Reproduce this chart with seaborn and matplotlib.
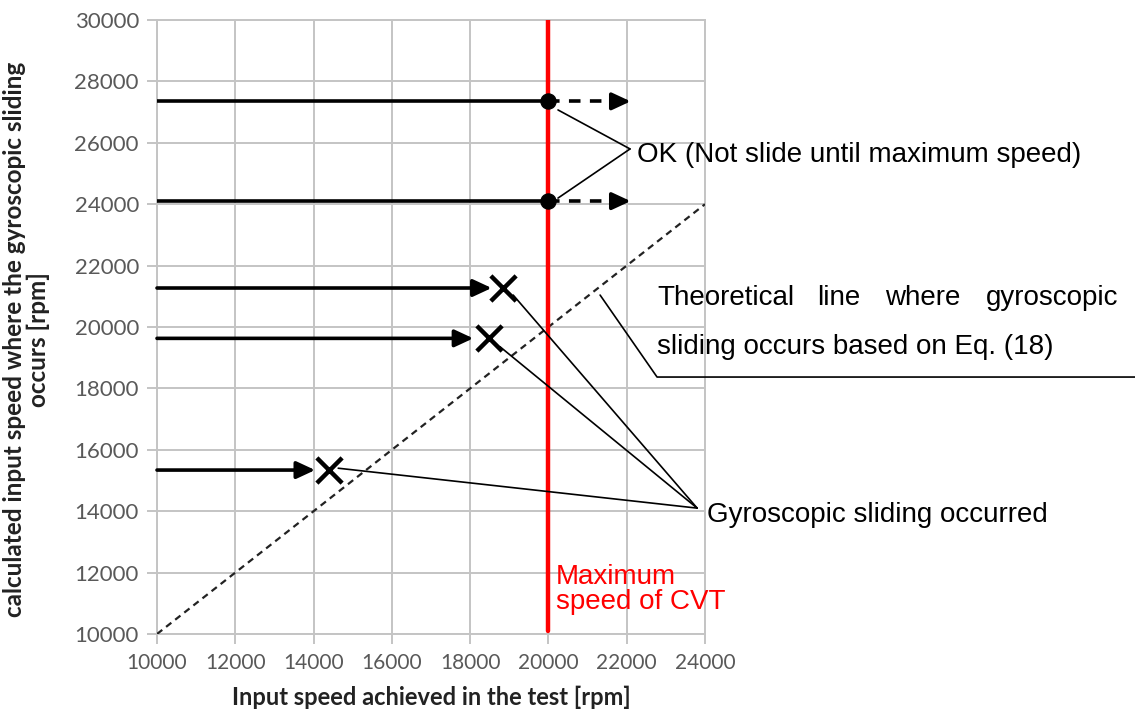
import matplotlib
matplotlib.use("Agg")
import matplotlib.pyplot as plt
import seaborn as sns
import pandas as pd

# ---------------- data ----------------
max_speed = 20000
ok_y = [27350, 24100]                 # calculated sliding speed (no sliding up to max)
ok_x = [20000, 20000]
ok_arrow_end = 22100
slide_x = [18830, 18490, 14400]       # achieved speed where sliding occurred
slide_y = [21270, 19630, 15340]
slide_arrow_tip = [18550, 18080, 14040]
theory_x = [10000, 24000]
theory_y = [10000, 24000]
x_ticks = list(range(10000, 24001, 2000))
y_ticks = list(range(10000, 30001, 2000))

sns.set_theme(style="white")
plt.rcParams["font.family"] = ["Liberation Sans", "DejaVu Sans"]

W, H = 1135, 713
fig = plt.figure(figsize=(W / 100, H / 100), dpi=100)
ax = fig.add_axes([157 / W, 1 - 634 / H, (705 - 157) / W, (634 - 20) / H])

ax.set_xlim(10000, 24000)
ax.set_ylim(10000, 30000)
ax.set_xticks(x_ticks)
ax.set_yticks(y_ticks)
grid_c = "#c4c4c4"
ax.grid(True, color=grid_c, lw=1.4)
for s in ax.spines.values():
    s.set_color(grid_c)
    s.set_linewidth(1.4)
ax.tick_params(axis="both", which="both", length=7, width=1.4, color=grid_c,
               colors="#595959", direction="out", left=True, bottom=True)
for lab in ax.get_xticklabels():
    lab.set_family("Lato"); lab.set_fontsize(15)
for lab in ax.get_yticklabels():
    lab.set_family("Lato"); lab.set_fontsize(16)
ax.tick_params(axis="x", pad=7)
ax.tick_params(axis="y", pad=6)

# theoretical line
df_th = pd.DataFrame({"x": theory_x, "y": theory_y})
sns.lineplot(data=df_th, x="x", y="y", ax=ax, color="#222222", lw=1.6,
             dashes=False, zorder=3)
ax.lines[-1].set_dashes((3, 2.2))

# red max speed line
df_red = pd.DataFrame({"x": [max_speed, max_speed], "y": [10100, 30000]})
sns.lineplot(data=df_red, x="x", y="y", ax=ax, color="#ff0000", lw=3.2, zorder=4,
             estimator=None, sort=False)

# arrows
ap = dict(arrowstyle="-|>,head_length=0.56,head_width=0.26", lw=2.6, color="black",
          shrinkA=0, shrinkB=0, mutation_scale=20)
for y in ok_y:
    ax.plot([10000, max_speed], [y, y], color="black", lw=2.6, zorder=5,
            solid_capstyle="butt")
    ax.plot([max_speed, ok_arrow_end - 420], [y, y], color="black", lw=2.6,
            dashes=(3.2, 2.6), zorder=5)
    ax.annotate("", xy=(ok_arrow_end, y), xytext=(ok_arrow_end - 400, y),
                arrowprops=ap, zorder=5)
for tip, y in zip(slide_arrow_tip, slide_y):
    ax.annotate("", xy=(tip, y), xytext=(10000, y), arrowprops=ap, zorder=5)

# markers
df_ok = pd.DataFrame({"x": ok_x, "y": ok_y})
sns.scatterplot(data=df_ok, x="x", y="y", ax=ax, color="black", s=120,
                edgecolor="black", zorder=6)
df_sl = pd.DataFrame({"x": slide_x, "y": slide_y})
sns.scatterplot(data=df_sl, x="x", y="y", ax=ax, color="black", marker="x",
                s=330, linewidth=3.2, zorder=6)
ax.set_xlabel("Input speed achieved in the test [rpm]", family="Lato",
              fontweight="bold", fontsize=17, color="#222222", labelpad=9)
ax.set_ylabel("calculated input speed where the gyroscopic sliding\noccurs [rpm]",
              family="Lato", fontweight="bold", fontsize=17.5, color="#222222",
              linespacing=1.05)
ax.yaxis.set_label_coords(-0.195, 0.48)

# leader lines
lk = dict(color="black", lw=1.2, clip_on=False, zorder=7)
ok_apex = (22085, 25800)
ax.plot([20245, ok_apex[0]], [27070, ok_apex[1]], **lk)
ax.plot([20245, ok_apex[0]], [24200, ok_apex[1]], **lk)
ax.plot([21320, 22775, 34990], [21040, 18370, 18370], **lk)
g_apex = (23800, 14100)
for sx, sy in [(19100, 21040), (18760, 19360), (14630, 15400)]:
    ax.plot([sx, g_apex[0]], [sy, g_apex[1]], **lk)

# texts
fs = 20
def fx(px):
    return px / W
def fy(py):
    return 1 - py / H

fig.text(fx(637), fy(155), "OK (Not slide until maximum speed)", fontsize=fs,
         va="center", ha="left", color="black")
for word, px, ha in [("Theoretical", 657, "left"), ("line", 817, "left"),
                     ("where", 885, "left"), ("gyroscopic", 1118, "right")]:
    fig.text(fx(px), fy(298), word, fontsize=fs, va="center", ha=ha, color="black")
fig.text(fx(657), fy(347), "sliding occurs based on Eq. (18)", fontsize=fs,
         va="center", ha="left", color="black")
fig.text(fx(707), fy(515), "Gyroscopic sliding occurred", fontsize=fs,
         va="center", ha="left", color="black")
fig.text(fx(556), fy(564), "Maximum\nspeed of CVT", fontsize=fs, va="top",
         ha="left", color="#ff0000", linespacing=0.97)

fig.savefig("out.png", dpi=100)
